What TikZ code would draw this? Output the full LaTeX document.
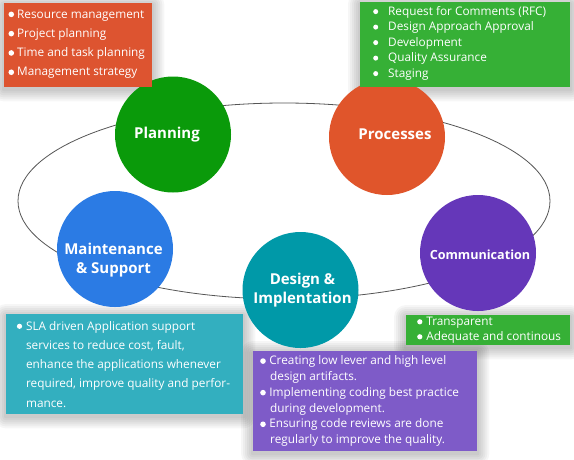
\documentclass[tikz,border=0pt]{standalone}
\usepackage{fontspec}
\setmainfont{Open Sans}
\definecolor{cPlan}{HTML}{0A9A0A}
\definecolor{cProc}{HTML}{E0552B}
\definecolor{cMaint}{HTML}{2B7BE4}
\definecolor{cDes}{HTML}{0099A8}
\definecolor{cComm}{HTML}{6537B9}
\definecolor{bOrange}{HTML}{DD5430}
\definecolor{bGreen}{HTML}{36B036}
\definecolor{bTeal}{HTML}{33AFBF}
\definecolor{bPurple}{HTML}{7E5BC8}
\definecolor{ringgray}{HTML}{555555}
\pgfdeclarelayer{bg}
\pgfdeclarelayer{shadowlayer}
\pgfsetlayers{bg,shadowlayer,main}
% bullet: radius, gap after
\newcommand\bul[2]{\begin{pgfpicture}\pgfsetbaseline{0pt}\pgfpathcircle{\pgfpoint{#1}{3.7pt}}{#1}\pgfsetfillcolor{white}\pgfusepath{fill}\end{pgfpicture}\hspace{#2}}
\begin{document}
\begin{tikzpicture}[x=1pt,y=-1pt,
  circ/.style={circle, minimum size=116pt, inner sep=0pt},
  lbl/.style={text=white, font=\fontsize{15}{19}\selectfont\bfseries, align=center, inner sep=0pt},
  box/.style={anchor=north west, inner sep=0pt},
  boxtext/.style={anchor=west, text=white, align=left, inner sep=0pt,
    font=\fontsize{11.8}{15.5}\selectfont},
]
\begin{pgfonlayer}{bg}
\fill[white] (0,0) rectangle (574,459);
\end{pgfonlayer}
\useasboundingbox (0,0) rectangle (574,459);
\draw[ringgray, line width=0.8pt] (284,201) ellipse [x radius=266pt, y radius=98pt];

\node[circ, fill=cPlan]  (plan)  at (173,134.5) {};
\node[circ, fill=cProc]  (proc)  at (387,137) {};
\node[circ, fill=cMaint] (maint) at (115,249) {};
\node[circ, fill=cDes]   (des)   at (300.5,290) {};
\node[circ, fill=cComm]  (comm)  at (478,253) {};

\node[lbl] (planL)  at ([xshift=-6pt]plan.center) {Planning};
\node[lbl] (procL)  at ([xshift=8pt,yshift=2.5pt]proc.center) {Processes};
\node[lbl] (maintL) at ([xshift=-1.5pt,yshift=-11pt]maint.center) {Maintenance\\\& Support};
\node[lbl] (desL)   at ([xshift=2pt]des.center) {Design \&\\Implentation};
\node[lbl, font=\fontsize{12.6}{15}\selectfont\bfseries] (commL) at ([xshift=2pt,yshift=-2pt]comm.center) {Communication};

\node[box, fill=bOrange, minimum width=148pt, minimum height=84pt] (b1) at (4,3) {};
\node[boxtext, font=\fontsize{11.8}{19.3}\selectfont] (t1) at ([xshift=4.3pt,yshift=1pt]b1.west)
  {\bul{2.8pt}{3pt}Resource management\\\bul{2.8pt}{3pt}Project planning\\\bul{2.8pt}{3pt}Time and task planning\\\bul{2.8pt}{3pt}Management strategy};

\node[box, fill=bGreen, minimum width=210pt, minimum height=85pt] (b2) at (360,2) {};
\node[boxtext, font=\fontsize{11.8}{15.5}\selectfont] (t2) at ([xshift=13pt,yshift=1.5pt]b2.west)
  {\bul{2.5pt}{10pt}Request for Comments (RFC)\\\bul{2.5pt}{10pt}Design Approach Approval\\\bul{2.5pt}{10pt}Development\\\bul{2.5pt}{10pt}Quality Assurance\\\bul{2.5pt}{10pt}Staging};

\node[box, fill=bTeal, minimum width=237pt, minimum height=100pt] (b3) at (6,314) {};
\node[boxtext, font=\fontsize{11.8}{19.3}\selectfont] (t3) at ([xshift=10.7pt]b3.west)
  {\bul{2.6pt}{4pt}SLA driven Application support\\\hspace*{9.2pt}services to reduce cost, fault,\\\hspace*{9.2pt}enhance the applications whenever\\\hspace*{9.2pt}required, improve quality and perfor-\\\hspace*{9.2pt}mance.};

\node[box, fill=bPurple, minimum width=224pt, minimum height=100pt] (b4) at (253,351) {};
\node[boxtext, font=\fontsize{11.8}{15.8}\selectfont] (t4) at ([xshift=7pt]b4.west)
  {\bul{2.8pt}{3.5pt}Creating low lever and high level\\\hspace*{10pt}design artifacts.\\\bul{2.8pt}{3.5pt}Implementing coding best practice\\\hspace*{10pt}during development.\\\bul{2.8pt}{3.5pt}Ensuring code reviews are done\\\hspace*{10pt}regularly to improve the quality.};

\node[box, fill=bGreen, minimum width=164pt, minimum height=30pt] (b5) at (406,315) {};
\node[boxtext, font=\fontsize{11.8}{15}\selectfont] (t5) at ([xshift=11pt]b5.west)
  {\bul{2.6pt}{4pt}Transparent\\\bul{2.6pt}{4pt}Adequate and continous};

\begin{pgfonlayer}{shadowlayer}
\foreach \b in {b1,b2,b3,b4,b5} {
  \foreach \e in {2,4,6,8,10,12} {
    \pgfmathsetmacro\dn{\e+2}
    \pgfmathsetmacro\up{\e-2}
    \fill[black, opacity=0.035, rounded corners=\e pt]
      ([shift={(-\e pt,-\dn pt)}]\b.south west) rectangle ([shift={(\e pt,\up pt)}]\b.north east);
  }
}
\end{pgfonlayer}
\end{tikzpicture}
\end{document}
